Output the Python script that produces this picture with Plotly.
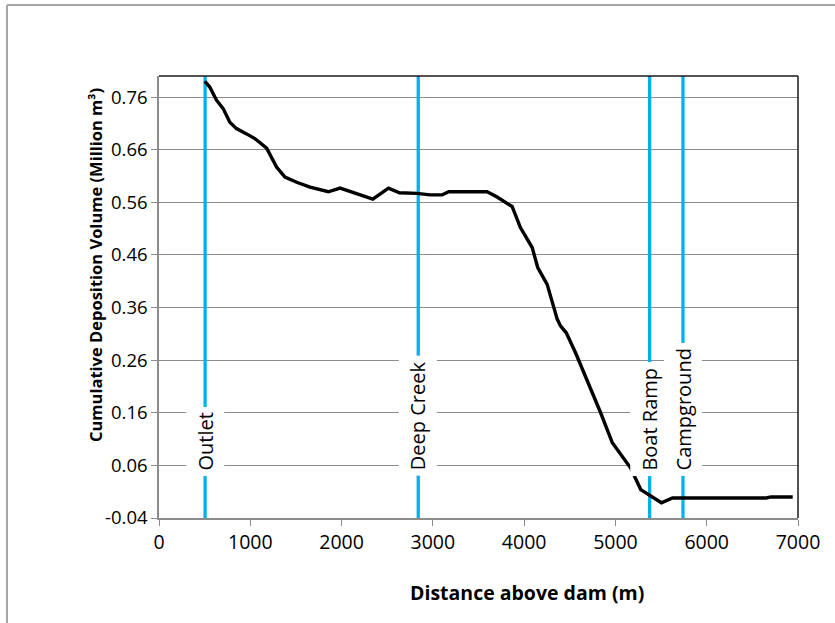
import plotly.graph_objects as go

# Data
distance_m = [502, 556, 630, 703, 776, 849, 959, 1050, 1179, 1288, 1380, 1508, 1654, 1855,
              1984, 2130, 2342, 2514, 2634, 2825, 2971, 3100, 3173, 3594, 3704, 3868, 3959,
              4088, 4149, 4252, 4362, 4398, 4461, 4563, 4673, 4838, 4966, 5057, 5167, 5277,
              5387, 5504, 5625, 6155, 6650, 6705, 6942]
volume_mm3 = [0.790, 0.779, 0.754, 0.738, 0.712, 0.700, 0.690, 0.681, 0.663, 0.627, 0.608,
              0.598, 0.589, 0.580, 0.587, 0.579, 0.566, 0.587, 0.578, 0.577, 0.574, 0.574,
              0.580, 0.580, 0.570, 0.552, 0.512, 0.474, 0.436, 0.404, 0.338, 0.325, 0.312,
              0.274, 0.230, 0.160, 0.103, 0.081, 0.055, 0.014, 0.001, -0.011, -0.002,
              -0.002, -0.002, 0.000, 0.000]

landmark_names = ["Outlet", "Deep Creek", "Boat Ramp", "Campground"]
landmark_x = [505, 2840, 5375, 5740]

y_ticks = [-0.04, 0.06, 0.16, 0.26, 0.36, 0.46, 0.56, 0.66, 0.76]
x_ticks = [0, 1000, 2000, 3000, 4000, 5000, 6000, 7000]

Y_MIN, Y_MAX = -0.04, 0.80
LABEL_BASE_Y = 0.039

GRID = "#8c8c8c"
BLUE = "#00b0f0"
FONT = "Open Sans"

L, R, T, B = 159, 37, 76, 105
W, H = 835, 623
PW, PH = W - L - R, H - T - B


def px_x(px):
    return (px - L) / PW


def px_y(py):
    return (H - B - py) / PH


fig = go.Figure()

# Landmark vertical lines
for nm, xv in zip(landmark_names, landmark_x):
    fig.add_trace(go.Scatter(x=[xv, xv], y=[Y_MIN, Y_MAX], mode="lines",
                             line=dict(color=BLUE, width=3.3), hoverinfo="skip",
                             showlegend=False))

fig.add_trace(go.Scatter(x=distance_m, y=volume_mm3, mode="lines",
                         line=dict(color="black", width=3.4), showlegend=False))

for nm, xv in zip(landmark_names, landmark_x):
    fig.add_annotation(x=xv, y=LABEL_BASE_Y, xref="x", yref="y", text=nm,
                       textangle=-90, showarrow=False, yanchor="bottom", xanchor="center",
                       bgcolor="white", borderpad=5,
                       font=dict(family=FONT, size=20, color="black"))

# Axis titles
fig.add_annotation(x=px_x(527), y=px_y(592), xref="paper", yref="paper",
                   text="<b>Distance above dam (m)</b>", showarrow=False,
                   xanchor="center", yanchor="middle",
                   font=dict(family=FONT, size=19.5, color="black"))
fig.add_annotation(x=px_x(95), y=px_y(265), xref="paper", yref="paper",
                   text="<b>Cumulative Deposition Volume (Million m³)</b>", showarrow=False,
                   textangle=-90, xanchor="center", yanchor="middle",
                   font=dict(family=FONT, size=16.5, color="black"))

# Plot-area top/right border (black) and outer chart border (gray, left/top)
fig.add_shape(type="line", xref="paper", yref="paper", x0=0, x1=1, y0=1, y1=1,
              line=dict(color="#1a1a1a", width=1.5))
fig.add_shape(type="line", xref="paper", yref="paper", x0=1, x1=1, y0=0, y1=1,
              line=dict(color="#1a1a1a", width=1.5))
fig.add_shape(type="line", xref="paper", yref="paper", x0=px_x(7), x1=2,
              y0=px_y(5), y1=px_y(5), line=dict(color="#a6a6a6", width=2))
fig.add_shape(type="line", xref="paper", yref="paper", x0=px_x(7), x1=px_x(7),
              y0=-1, y1=px_y(5), line=dict(color="#a6a6a6", width=2))

fig.update_xaxes(range=[0, 7000], tickvals=x_ticks, ticktext=[str(v) for v in x_ticks],
                 showgrid=False, zeroline=False, showline=True, linecolor=GRID, linewidth=1.5,
                 ticks="outside", ticklen=6, tickcolor=GRID, tickwidth=1.3,
                 tickfont=dict(family=FONT, size=19.5, color="black"))
fig.update_yaxes(range=[Y_MIN, Y_MAX], tickvals=y_ticks, ticktext=[f"{v:.2f}" for v in y_ticks],
                 showgrid=True, gridcolor=GRID, gridwidth=1.3, zeroline=False,
                 showline=True, linecolor=GRID, linewidth=1.5,
                 ticks="outside", ticklen=6, tickcolor=GRID, tickwidth=1.3,
                 tickfont=dict(family=FONT, size=18.5, color="black"))

fig.update_layout(width=W, height=H, margin=dict(l=L, r=R, t=T, b=B),
                  paper_bgcolor="white", plot_bgcolor="white", showlegend=False)

fig.write_html("out.html", config={"displayModeBar": False},
               post_script="document.body.style.margin='0';document.body.style.overflow='hidden';")
